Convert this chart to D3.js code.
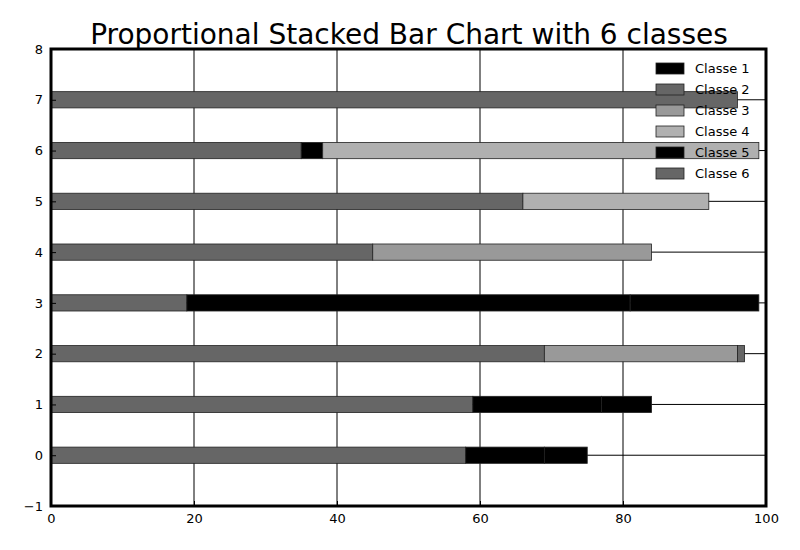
<!DOCTYPE html>
<html><head><meta charset="utf-8">
<script src="https://cdn.jsdelivr.net/npm/d3@7"></script>
<style>body{margin:0;background:#fff}</style>
</head><body><div id="chart"></div>
<script>
var rows = [0, 1, 2, 3, 4, 5, 6, 7]
var classes = ["Classe 1", "Classe 2", "Classe 3", "Classe 4", "Classe 5", "Classe 6"]
var colors = ["#000000", "#666666", "#999999", "#b0b0b0", "#000000", "#666666"]
var classe1 = [6, 7, 0, 18, 0, 0, 0, 0]
var classe2 = [58, 59, 69, 19, 45, 66, 35, 96]
var classe3 = [0, 0, 27, 0, 39, 0, 0, 0]
var classe4 = [0, 0, 0, 0, 0, 26, 61, 0]
var classe5 = [11, 18, 0, 62, 0, 0, 3, 0]
var classe6 = [0, 0, 1, 0, 0, 0, 0, 0]
var values = [classe1, classe2, classe3, classe4, classe5, classe6]
var stackOrder = [1, 4, 0, 2, 3, 5]
var xTicks = [0, 20, 40, 60, 80, 100]
var yTicks = [-1, 0, 1, 2, 3, 4, 5, 6, 7, 8]

var margin = {left:51, right:34, top:49, bottom:44}
var width = 800 - margin.left - margin.right
var height = 550 - margin.top - margin.bottom

var svg = d3.select("#chart").append("svg")
  .attr("width", 800).attr("height", 550)
  .style("font-family", "DejaVu Sans")

var g = svg.append("g")
  .attr("transform", "translate(" + margin.left + "," + margin.top + ")")

var x = d3.scaleLinear().domain([0, 100]).range([0, width])
var y = d3.scaleLinear().domain([-1, 8]).range([height, 0])

// grid
g.selectAll(".vg").data(xTicks).enter().append("line")
  .attr("x1", d => x(d)).attr("x2", d => x(d)).attr("y1", 0).attr("y2", height)
  .attr("stroke", "#000").attr("stroke-width", 1)
g.selectAll(".hg").data(yTicks).enter().append("line")
  .attr("y1", d => y(d)).attr("y2", d => y(d)).attr("x1", 0).attr("x2", width)
  .attr("stroke", "#000").attr("stroke-width", 1)

// bars
var bh = y(0) - y(0.32)
rows.forEach(function(r, i) {
  var acc = 0
  stackOrder.forEach(function(c) {
    var v = values[c][i]
    if (v > 0) {
      g.append("rect")
        .attr("x", x(acc)).attr("width", x(acc + v) - x(acc))
        .attr("y", y(r) - bh / 2).attr("height", bh)
        .attr("fill", colors[c]).attr("stroke", "#222").attr("stroke-width", 0.8)
      acc += v
    }
  })
})

// axes
var xAxis = d3.axisBottom(x).tickValues(xTicks).tickSizeInner(-5).tickSizeOuter(0).tickPadding(8)
g.append("g").attr("transform", "translate(0," + height + ")").call(xAxis)
var yAxis = d3.axisLeft(y).tickValues(yTicks).tickSizeInner(-5).tickSizeOuter(0).tickPadding(8)
g.append("g").call(yAxis)
g.selectAll(".domain").remove()
g.selectAll(".tick text").attr("font-size", 13).attr("font-family", "DejaVu Sans").attr("fill", "#000")

// frame
g.append("rect").attr("width", width).attr("height", height)
  .attr("fill", "none").attr("stroke", "#000").attr("stroke-width", 3)

svg.append("text").attr("x", 409).attr("y", 44).attr("text-anchor", "middle")
  .attr("font-size", 28).text("Proportional Stacked Bar Chart with 6 classes")

// legend
var lg = g.append("g").attr("transform", "translate(605,14)")
classes.forEach(function(c, i) {
  lg.append("rect").attr("x", 0).attr("y", i * 21).attr("width", 28).attr("height", 11)
    .attr("fill", colors[i]).attr("stroke", "#222").attr("stroke-width", 0.8)
  lg.append("text").attr("x", 39).attr("y", i * 21 + 10).attr("font-size", 13).text(c)
})
</script>
</body></html>
